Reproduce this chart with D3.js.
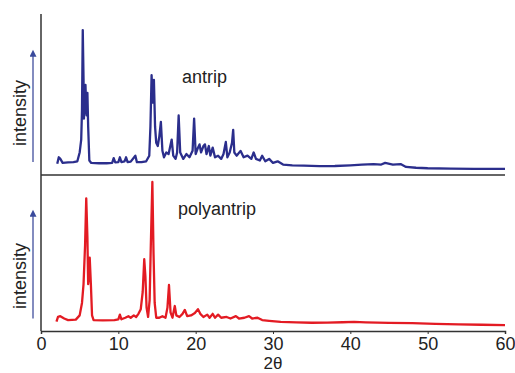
<!DOCTYPE html>
<html>
<head>
<meta charset="utf-8">
<script src="https://cdn.jsdelivr.net/npm/d3@7"></script>
<style>
  html, body { margin: 0; padding: 0; background: #fff; }
  svg { display: block; }
  text { font-family: "Liberation Sans", Arial, sans-serif; fill: #222; }
</style>
</head>
<body>
<svg id="chart" width="515" height="373"></svg>
<script>
// 2θ positions (deg) and relative intensity
const antripTheta = [2.1, 2.3, 2.5, 2.8, 3.5, 4.2, 4.7, 5.0, 5.2, 5.3, 5.4, 5.5, 5.55, 5.65, 5.75, 5.85, 5.9, 6.0, 6.1, 6.25, 6.5, 7.5, 8.5, 9.2, 9.4, 9.6, 10.0, 10.2, 10.4, 10.8, 11.0, 11.2, 11.6, 12.2, 12.4, 13.0, 13.6, 14.0, 14.15, 14.3, 14.45, 14.6, 14.75, 14.9, 15.1, 15.3, 15.5, 15.7, 15.9, 16.2, 16.5, 16.9, 17.1, 17.4, 17.6, 17.8, 18.0, 18.4, 18.8, 19.2, 19.6, 19.8, 20.0, 20.3, 20.5, 20.7, 21.0, 21.2, 21.4, 21.7, 21.9, 22.2, 22.5, 22.9, 23.3, 23.6, 23.9, 24.1, 24.4, 24.7, 24.85, 25.0, 25.3, 25.8, 26.2, 26.7, 27.2, 27.5, 27.8, 28.3, 28.6, 29.0, 29.5, 30.0, 30.6, 31.3, 32.5, 34.0, 36.0, 38.0, 40.0, 41.5, 43.0, 44.0, 44.5, 45.5, 46.5, 47.2, 48.5, 50.0, 53.0, 56.0, 60.0];
const antripInt = [7.0, 11, 10, 7.5, 7.8, 8.0, 8.5, 14, 22, 40, 90, 60, 35, 45, 56, 40, 37, 51, 30, 9, 7.5, 7.3, 7.3, 7.5, 10.5, 7.8, 8, 11, 8, 8.5, 11, 8, 8.3, 12, 8, 8, 8.5, 12, 30, 62, 45, 59, 30, 20, 18, 24, 33, 15, 11, 14, 13, 22, 12, 10, 14, 37, 14, 10, 13, 11, 15, 35, 13, 17, 19, 14, 18, 19, 13, 18, 12, 17, 11, 12, 10, 13, 20.5, 11, 14, 20, 28, 14, 12, 15, 11, 12, 10, 14, 10, 9, 12, 8.5, 10, 7.5, 8.5, 6.5, 6.0, 5.8, 5.5, 5.6, 6.0, 6.4, 6.8, 6.5, 7.5, 6.5, 6.8, 5.0, 4.5, 4.2, 4.0, 3.8, 3.8];

const polyTheta = [2.0, 2.2, 2.5, 3.0, 3.5, 4.5, 5.0, 5.3, 5.5, 5.7, 5.85, 6.0, 6.1, 6.2, 6.3, 6.45, 6.6, 6.8, 8.0, 9.5, 10.0, 10.2, 10.4, 10.9, 11.3, 11.6, 12.0, 12.3, 12.6, 12.9, 13.15, 13.35, 13.5, 13.65, 13.85, 14.05, 14.2, 14.4, 14.55, 14.7, 14.9, 15.3, 15.7, 16.1, 16.35, 16.55, 16.75, 17.0, 17.3, 17.5, 17.9, 18.3, 18.6, 18.9, 19.4, 19.9, 20.3, 20.6, 21.0, 21.5, 21.8, 22.2, 22.5, 22.9, 23.3, 24.0, 24.5, 25.2, 25.6, 26.3, 26.9, 27.3, 28.0, 28.6, 29.5, 31.0, 33.0, 35.0, 37.0, 39.0, 40.5, 42.0, 45.0, 48.0, 51.0, 54.0, 57.0, 60.0];
const polyInt = [6.0, 9, 9.5, 8, 7, 7.3, 10, 18, 30, 55, 85, 60, 30, 35, 47, 30, 10, 7, 6.8, 7, 7.5, 10.5, 7.5, 8.5, 9.5, 8.5, 10, 9, 11, 14, 25, 46, 35, 15, 9, 20, 55, 95.5, 50, 18, 8.5, 8.5, 9.5, 8.5, 15, 29.5, 12, 8.5, 16, 10, 9, 11, 13.5, 9.5, 10, 11.5, 14, 11, 9, 10.5, 8.5, 11, 8.5, 10.5, 8.5, 9, 8, 9.5, 8, 8.5, 9.5, 8, 8.5, 7, 6.5, 5.8, 5.5, 5.3, 5.4, 5.6, 5.8, 5.5, 5.2, 5.0, 4.6, 4.3, 4.0, 3.8];

const xTicks = [0, 10, 20, 30, 40, 50, 60];
const panelLabels = ["antrip", "polyantrip"];

const svg = d3.select("#chart");

const x = d3.scaleLinear().domain([0, 60]).range([41, 505]);
const yTop = d3.scaleLinear().domain([0, 100]).range([175, 14]);
const yBot = d3.scaleLinear().domain([0, 100]).range([331, 175]);

const antrip = antripTheta.map((t, i) => ({ t, v: antripInt[i] }));
const poly = polyTheta.map((t, i) => ({ t, v: polyInt[i] }));

// arrow head for the intensity arrows
svg.append("defs")
  .append("marker")
  .attr("id", "arrow")
  .attr("viewBox", "0 0 10 10")
  .attr("refX", 6)
  .attr("refY", 5)
  .attr("markerWidth", 9)
  .attr("markerHeight", 7)
  .attr("markerUnits", "userSpaceOnUse")
  .attr("orient", "auto")
  .append("path")
  .attr("d", "M0,0 L10,5 L0,10 Z")
  .attr("fill", "#3a4a9c");

function drawPattern(data, yScale, color) {
  const line = d3.line()
    .x((d) => x(d.t))
    .y((d) => yScale(d.v));

  svg.append("path")
    .datum(data)
    .attr("fill", "none")
    .attr("stroke", color)
    .attr("stroke-width", 2.3)
    .attr("stroke-linejoin", "round")
    .attr("d", line);
}

drawPattern(antrip, yTop, "#2b2e8c");
drawPattern(poly, yBot, "#e31b23");

// frame: left axis, panel divider, bottom axis
svg.append("line")
  .attr("x1", x(0)).attr("x2", x(0))
  .attr("y1", yTop(100)).attr("y2", yBot(0))
  .attr("stroke", "#333").attr("stroke-width", 1.5);

svg.append("line")
  .attr("x1", x(0)).attr("x2", x(60))
  .attr("y1", yTop(0)).attr("y2", yTop(0))
  .attr("stroke", "#333").attr("stroke-width", 1.5);

const xAxis = svg.append("g")
  .attr("transform", `translate(0,${yBot(0)})`)
  .call(d3.axisBottom(x).tickValues(xTicks).tickSize(3).tickPadding(3));

xAxis.select(".domain").attr("stroke", "#333").attr("stroke-width", 1.5);
xAxis.selectAll(".tick line").attr("stroke", "#333");
xAxis.selectAll("text")
  .style("font-size", "18px")
  .style("font-family", "'Liberation Sans', Arial, sans-serif")
  .attr("fill", "#222");

svg.append("text")
  .attr("x", x(30))
  .attr("y", 369)
  .attr("text-anchor", "middle")
  .style("font-size", "17px")
  .text("2θ");

// intensity labels and arrows for both panels
[yTop, yBot].forEach((yScale, i) => {
  const mid = i === 0 ? 113 : 276;
  svg.append("text")
    .attr("transform", `translate(26,${mid}) rotate(-90)`)
    .attr("text-anchor", "middle")
    .style("font-size", "18px")
    .text("intensity");

  svg.append("line")
    .attr("x1", 33).attr("x2", 33)
    .attr("y1", yScale(8)).attr("y2", yScale(76))
    .attr("stroke", "#5a66aa")
    .attr("stroke-width", 1.5)
    .attr("marker-end", "url(#arrow)");
});

svg.append("text")
  .attr("x", 182)
  .attr("y", 83)
  .style("font-size", "18px")
  .text(panelLabels[0]);

svg.append("text")
  .attr("x", 178)
  .attr("y", 215)
  .style("font-size", "18px")
  .text(panelLabels[1]);
</script>
</body>
</html>
